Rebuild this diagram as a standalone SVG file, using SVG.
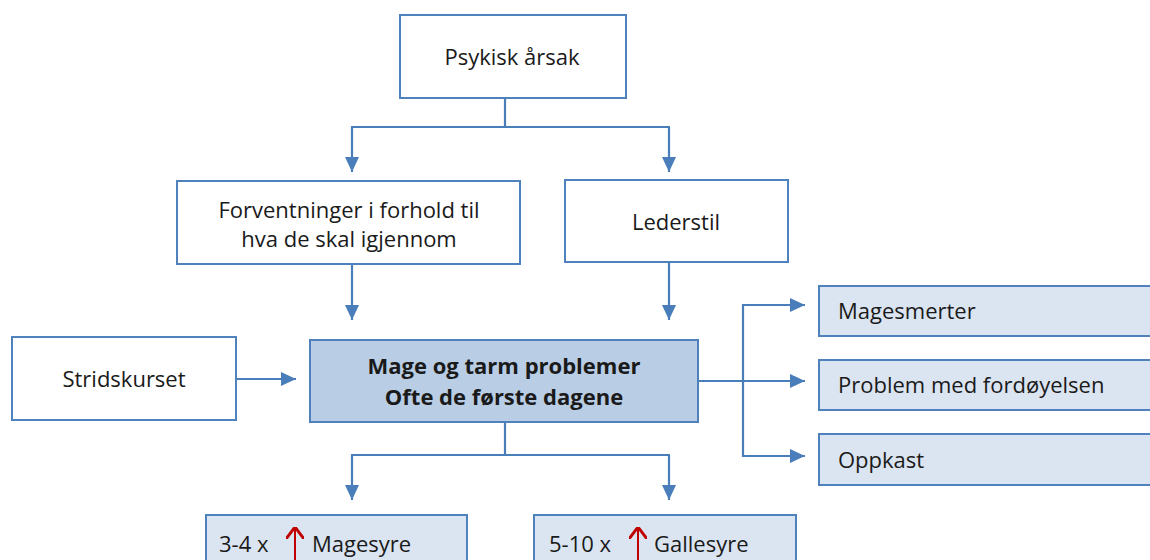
<svg xmlns="http://www.w3.org/2000/svg" width="1150" height="560" viewBox="0 0 1150 560">
<defs>
<marker id="ah" viewBox="0 0 10 10" refX="10" refY="5" markerWidth="15" markerHeight="14" markerUnits="userSpaceOnUse" orient="auto" preserveAspectRatio="none">
<path d="M0,0 L10,5 L0,10 Z" fill="#4a7ebb"/>
</marker>
<marker id="ahr" viewBox="0 0 10 10" refX="10" refY="5" markerWidth="12" markerHeight="18" markerUnits="userSpaceOnUse" orient="auto" preserveAspectRatio="none">
<path d="M0,0 L10,5 L0,10" fill="none" stroke="#c00000" stroke-width="1.8"/>
</marker>
<style>
.w{fill:#ffffff;stroke:#4f81bd;stroke-width:2}
.c{fill:#b9cde5;stroke:#4f81bd;stroke-width:2}
.l{fill:#dbe5f1;stroke:#4f81bd;stroke-width:2}
.t{font-family:"Open Sans","Liberation Sans",sans-serif;font-size:22px;fill:#1a1a1a}
.b{font-weight:bold}
.cn{fill:none;stroke:#4a7ebb;stroke-width:2.2}
</style>
</defs>
<g id="connectors">
<path class="cn" d="M505,98 V127 M351,127 H670"/>
<path class="cn" d="M352,127 V172" marker-end="url(#ah)"/>
<path class="cn" d="M669,127 V172" marker-end="url(#ah)"/>
<path class="cn" d="M352,264 V320" marker-end="url(#ah)"/>
<path class="cn" d="M669,262 V320" marker-end="url(#ah)"/>
<path class="cn" d="M236,379 H296" marker-end="url(#ah)"/>
<path class="cn" d="M505,422 V455 M351,455 H670"/>
<path class="cn" d="M352,455 V500" marker-end="url(#ah)"/>
<path class="cn" d="M669,455 V500" marker-end="url(#ah)"/>
<path class="cn" d="M698,381 H743 M743,304 V457"/>
<path class="cn" d="M742,305 H805" marker-end="url(#ah)"/>
<path class="cn" d="M743,381 H805" marker-end="url(#ah)"/>
<path class="cn" d="M742,456 H805" marker-end="url(#ah)"/>
</g>
<g id="psykisk"><rect class="w" x="400" y="15" width="226" height="83"/><text class="t" x="512" y="65" text-anchor="middle">Psykisk årsak</text></g>
<g id="forventninger"><rect class="w" x="177" y="181" width="343" height="83"/><text class="t" x="349" y="218" text-anchor="middle">Forventninger i forhold til</text><text class="t" x="349" y="247" text-anchor="middle">hva de skal igjennom</text></g>
<g id="lederstil"><rect class="w" x="565" y="180" width="223" height="82"/><text class="t" x="676" y="230" text-anchor="middle">Lederstil</text></g>
<g id="stridskurset"><rect class="w" x="12" y="337" width="224" height="83"/><text class="t" x="124" y="387" text-anchor="middle">Stridskurset</text></g>
<g id="mage"><rect class="c" x="310" y="340" width="388" height="82"/><text class="t b" x="504" y="374" text-anchor="middle">Mage og tarm problemer</text><text class="t b" x="504" y="405" text-anchor="middle">Ofte de første dagene</text></g>
<g id="magesmerter"><rect class="l" x="819" y="286" width="340" height="50"/><text class="t" x="838" y="319">Magesmerter</text></g>
<g id="fordoyelse"><rect class="l" x="819" y="360" width="340" height="50"/><text class="t" x="838" y="393">Problem med fordøyelsen</text></g>
<g id="oppkast"><rect class="l" x="819" y="434" width="340" height="51"/><text class="t" x="838" y="468">Oppkast</text></g>
<g id="magesyre"><rect class="l" x="206" y="515" width="261" height="60"/><text class="t" x="219" y="552">3-4 x</text><path d="M295,562 V527" fill="none" stroke="#c00000" stroke-width="2" marker-end="url(#ahr)"/><text class="t" x="312" y="552">Magesyre</text></g>
<g id="gallesyre"><rect class="l" x="534" y="515" width="262" height="60"/><text class="t" x="549" y="552">5-10 x</text><path d="M638,562 V527" fill="none" stroke="#c00000" stroke-width="2" marker-end="url(#ahr)"/><text class="t" x="654" y="552">Gallesyre</text></g>
</svg>
